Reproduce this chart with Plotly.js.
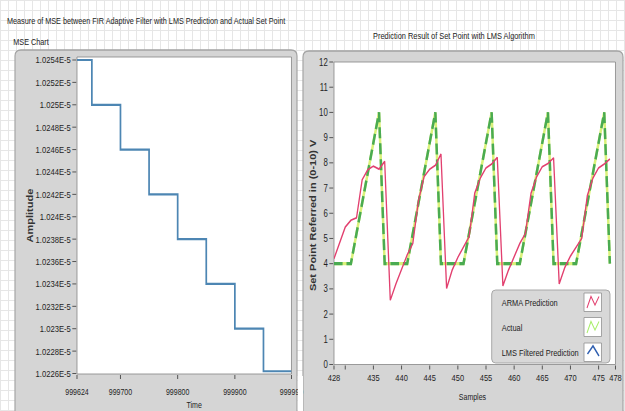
<!DOCTYPE html>
<html><head><meta charset="utf-8">
<script src="https://cdn.plot.ly/plotly-3.0.1.min.js"></script>
<style>
html,body{margin:0;padding:0;width:625px;height:411px;overflow:hidden;
background-color:#fff;
background-image:linear-gradient(#e6e6e6 1px,transparent 1px),linear-gradient(90deg,#e6e6e6 1px,transparent 1px);
background-size:8px 10px;}
#chart{width:801px;height:411px;transform:scaleX(0.78027);transform-origin:0 0;}
</style></head><body><div id="chart"></div>
<script>
// ---------- data: MSE chart ----------
const mseTime  = [999624, 999650, 999700, 999750, 999800, 999850, 999900, 999950, 999999];
const mseValue = [1.0254e-5, 1.0250e-5, 1.0246e-5, 1.0242e-5, 1.0238e-5, 1.0234e-5, 1.0230e-5, 1.02262e-5, 1.02262e-5];
const mseXTicks = [999624, 999700, 999800, 999900, 999999];
const mseXTickText = ['999624', '999700', '999800', '999900', '999999'];
const mseYTicks = [1.0226e-5, 1.0228e-5, 1.0230e-5, 1.0232e-5, 1.0234e-5, 1.0236e-5, 1.0238e-5, 1.0240e-5,
                   1.0242e-5, 1.0244e-5, 1.0246e-5, 1.0248e-5, 1.0250e-5, 1.0252e-5, 1.0254e-5];
const mseYTickText = ['1.0226E-5', '1.0228E-5', '1.023E-5', '1.0232E-5', '1.0234E-5', '1.0236E-5', '1.0238E-5', '1.024E-5',
                      '1.0242E-5', '1.0244E-5', '1.0246E-5', '1.0248E-5', '1.025E-5', '1.0252E-5', '1.0254E-5'];

// ---------- data: prediction chart ----------
const samples = [428, 429, 430, 431, 432, 433, 434, 435, 436, 437,
                 438, 439, 440, 441, 442, 443, 444, 445, 446, 447,
                 448, 449, 450, 451, 452, 453, 454, 455, 456, 457,
                 458, 459, 460, 461, 462, 463, 464, 465, 466, 467,
                 468, 469, 470, 471, 472, 473, 474, 475, 476, 477];
const actual = [4, 4, 4, 4, 5.2, 6.4, 7.6, 8.8, 10, 4,
                4, 4, 4, 4, 5.2, 6.4, 7.6, 8.8, 10, 4,
                4, 4, 4, 4, 5.2, 6.4, 7.6, 8.8, 10, 4,
                4, 4, 4, 4, 5.2, 6.4, 7.6, 8.8, 10, 4,
                4, 4, 4, 4, 5.2, 6.4, 7.6, 8.8, 10, 4];
const armaPrediction = [4.2, 4.8, 5.45, 5.72, 5.82, 7.33, 7.73, 7.87, 7.75, 8.06,
                        2.55, 3.2, 3.8, 4.35, 4.8, 6.5, 7.45, 7.75, 7.9, 8.35,
                        3.02, 3.75, 4.25, 4.65, 5.07, 6.8, 7.4, 7.8, 7.95, 8.22,
                        3.12, 3.75, 4.3, 4.8, 5.2, 6.8, 7.45, 7.85, 7.97, 8.2,
                        3.2, 3.85, 4.3, 4.65, 5.0, 6.7, 7.4, 7.8, 7.95, 8.15];
const predXTicks = [428, 430, 435, 440, 445, 450, 455, 460, 465, 470, 475, 478];
const predXTickText = ['428', '', '435', '440', '445', '450', '455', '460', '465', '470', '475', '478'];
const predYTicks = [0, 1, 2, 3, 4, 5, 6, 7, 8, 9, 10, 11, 12];
const legendLabels = ['ARMA Prediction', 'Actual', 'LMS Filtered Prediction'];

// ---------- styling / layout helpers ----------
// The reference is a horizontally compressed screenshot: the figure is laid out
// 801 px wide and squeezed to 625 px with a CSS scaleX, positions given in final pixels.
const W = 625, H = 411, LAYOUT_W = 801;
const px = x => x / W;
const py = y => 1 - y / H;
const SANS = '"Liberation Sans", Arial, sans-serif';
const COL_ARMA = '#e2406f', COL_ACT_LIGHT = '#daf27a', COL_ACT_DARK = '#4aab52', COL_LMS = '#2f5fb0', COL_MSE = '#4d86b3';

function roundRect(x0, y0, x1, y1, r) {
  const rx = r / W, ry = r / H;
  const a = px(x0), b = px(x1), t = py(y0), u = py(y1);
  return `M${a + rx},${t} L${b - rx},${t} Q${b},${t} ${b},${t - ry} L${b},${u + ry} Q${b},${u} ${b - rx},${u} ` +
         `L${a + rx},${u} Q${a},${u} ${a},${u + ry} L${a},${t - ry} Q${a},${t} ${a + rx},${t} Z`;
}
function pathPx(points) {
  return points.map((p, i) => (i ? 'L' : 'M') + px(p[0]) + ',' + py(p[1])).join(' ');
}
function rectPx(x0, y0, x1, y1, fill, line, lw, layer) {
  return {type: 'rect', xref: 'paper', yref: 'paper', x0: px(x0), x1: px(x1), y0: py(y1), y1: py(y0),
          fillcolor: fill, line: {color: line, width: lw}, layer: layer || 'below'};
}

// left y-range so that ticks sit at the measured pixels
const L_TOP = 57, L_BOT = 374;
const yScale = (1.0254e-5 - 1.0226e-5) / (373.5 - 60);
const leftYRange = [1.0226e-5 - (L_BOT - 373.5) * yScale, 1.0254e-5 + (60 - L_TOP) * yScale];

const traces = [
  {x: mseTime, y: mseValue, xaxis: 'x', yaxis: 'y', type: 'scatter', mode: 'lines',
   line: {shape: 'hv', color: COL_MSE, width: 2.2}, name: 'MSE', showlegend: false},
  {x: samples, y: actual, xaxis: 'x2', yaxis: 'y2', type: 'scatter', mode: 'lines',
   line: {color: COL_ACT_LIGHT, width: 3.2}, name: legendLabels[1], showlegend: false},
  {x: samples, y: actual, xaxis: 'x2', yaxis: 'y2', type: 'scatter', mode: 'lines',
   line: {color: COL_ACT_DARK, width: 3.2, dash: '11px,5px'}, name: legendLabels[1] + ' (dashed)', showlegend: false},
  {x: samples, y: armaPrediction, xaxis: 'x2', yaxis: 'y2', type: 'scatter', mode: 'lines',
   line: {color: COL_ARMA, width: 1.7}, name: legendLabels[0], showlegend: false}
];

const shapes = [
  // panels
  {type: 'path', xref: 'paper', yref: 'paper', path: roundRect(15, 50, 297, 430, 6),
   fillcolor: '#d5d5d5', line: {color: '#a3a3a3', width: 1.5}, layer: 'below'},
  {type: 'path', xref: 'paper', yref: 'paper', path: roundRect(303, 51, 623, 430, 6),
   fillcolor: '#d5d5d5', line: {color: '#a3a3a3', width: 1.5}, layer: 'below'},
  // plot areas
  rectPx(77, L_TOP, 291.5, L_BOT, '#ffffff', '#8f8f8f', 1),
  rectPx(334, 62, 615.5, 364.5, '#ffffff', '#8f8f8f', 1),
  // clip of last time label at the panel edge
  rectPx(297.8, 376, 303, 411, '#ffffff', 'rgba(0,0,0,0)', 0, 'above'),
  // legend box
  {type: 'path', xref: 'paper', yref: 'paper', path: roundRect(491.7, 290, 610, 363, 4),
   fillcolor: '#d8d8d8', line: {color: '#a0a0a0', width: 1}, layer: 'above'},
  rectPx(584, 293, 601.5, 311.5, '#ffffff', '#9a9a9a', 1, 'above'),
  rectPx(584, 317.5, 601.5, 336.5, '#ffffff', '#9a9a9a', 1, 'above'),
  rectPx(584, 343, 601.5, 361.5, '#ffffff', '#9a9a9a', 1, 'above'),
  {type: 'path', xref: 'paper', yref: 'paper', layer: 'above', line: {color: COL_ARMA, width: 1.3},
   path: pathPx([[587, 308], [591, 296.5], [595, 305], [599, 296.5]])},
  {type: 'path', xref: 'paper', yref: 'paper', layer: 'above', line: {color: '#a8ee6a', width: 1.3},
   path: pathPx([[587, 333], [591, 321.5], [595, 330], [599, 321.5]])},
  {type: 'path', xref: 'paper', yref: 'paper', layer: 'above', line: {color: COL_LMS, width: 1.8},
   path: pathPx([[587.5, 354], [593, 346], [599, 356]])}
];

const annFont = {family: SANS, size: 9.5, color: '#222'};
const ann = (text, x, y, extra) => Object.assign({text, xref: 'paper', yref: 'paper', x: px(x), y: py(y),
  xanchor: 'center', yanchor: 'middle', showarrow: false, font: annFont}, extra || {});
const boldTitle = {family: SANS, size: 11, color: '#333', weight: 'bold'};
const annotations = [
  ann('MSE Chart', 12, 42, {xanchor: 'left', font: {family: SANS, size: 9.3, color: '#222'}}),
  ann('Prediction Result of Set Point with LMS Algorithm', 454, 35),
  ann('Amplitude', 30, 215, {textangle: -90, font: boldTitle}),
  ann('Time', 194, 405, {font: {family: SANS, size: 9, color: '#222'}}),
  ann('Set Point Referred in (0-10) V', 313, 215, {textangle: -90, font: boldTitle}),
  ann('Samples', 473, 397, {font: {family: SANS, size: 9, color: '#222'}}),
  ann(legendLabels[0], 500, 302.5, {xanchor: 'left'}),
  ann(legendLabels[1], 500, 327, {xanchor: 'left'}),
  ann(legendLabels[2], 500, 352, {xanchor: 'left'})
];

const axisCommon = {showgrid: false, zeroline: false, showline: false, ticks: 'outside',
                    tickcolor: '#444', tickwidth: 1, tickangle: 0, fixedrange: true};
const layout = {
  width: LAYOUT_W, height: H, margin: {l: 0, r: 0, t: 0, b: 0},
  paper_bgcolor: 'rgba(0,0,0,0)', plot_bgcolor: 'rgba(0,0,0,0)',
  showlegend: false,
  title: {text: 'Measure of MSE between FIR Adaptive Filter with LMS Prediction and Actual Set Point',
          x: px(7), xanchor: 'left', xref: 'paper', y: py(21), yanchor: 'middle', yref: 'paper',
          font: {family: SANS, size: 9.3, color: '#222'}},
  xaxis: Object.assign({}, axisCommon, {domain: [px(77), px(291.5)], range: [999624, 999999], anchor: 'y',
          ticklen: 4, ticklabelstandoff: 5,
          tickmode: 'array', tickvals: mseXTicks, ticktext: mseXTickText, tickfont: {family: SANS, size: 9, color: '#1e1e1e'}}),
  yaxis: Object.assign({}, axisCommon, {domain: [py(L_BOT), py(L_TOP)], range: leftYRange, anchor: 'x',
          ticklen: 5, tickmode: 'array', tickvals: mseYTicks, ticktext: mseYTickText,
          tickfont: {family: SANS, size: 9.8, color: '#1e1e1e'}}),
  xaxis2: Object.assign({}, axisCommon, {domain: [px(334), px(615.5)], range: [428, 478], anchor: 'y2',
          ticklen: 4, tickmode: 'array', tickvals: predXTicks, ticktext: predXTickText,
          tickfont: {family: SANS, size: 9.6, color: '#1e1e1e'}}),
  yaxis2: Object.assign({}, axisCommon, {domain: [py(364.5), py(62)], range: [0, 12], anchor: 'x2',
          ticklen: 5, tickmode: 'array', tickvals: predYTicks,
          tickfont: {family: SANS, size: 10, color: '#1e1e1e'}}),
  shapes, annotations
};
Plotly.newPlot('chart', traces, layout, {staticPlot: true, displayModeBar: false});
</script></body></html>
